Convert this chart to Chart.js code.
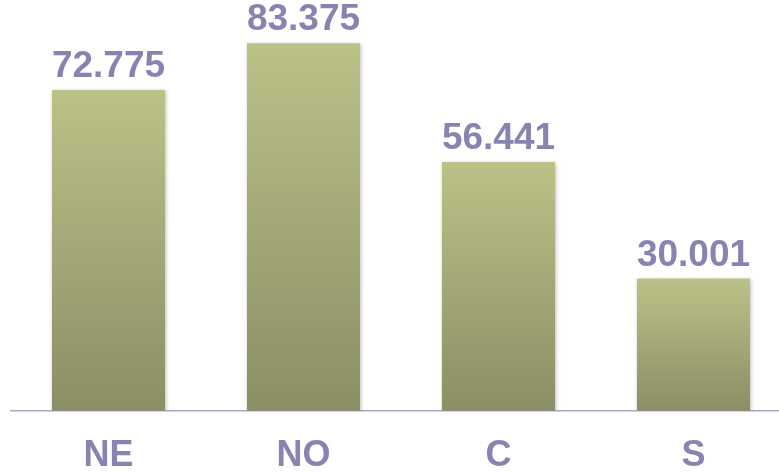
<!DOCTYPE html>
<html>
<head>
<meta charset="utf-8">
<script src="https://cdn.jsdelivr.net/npm/chart.js@4/dist/chart.umd.min.js"></script>
<style>
  html, body { margin: 0; padding: 0; background: #ffffff; overflow: hidden; }
  #wrap { width: 779px; height: 472px; overflow: hidden; }
  canvas { display: block; }
</style>
</head>
<body>
<div id="wrap"><canvas id="chart" width="800" height="502"></canvas></div>
<script>
// Regions and their values
const categories = ['NE', 'NO', 'C', 'S'];
const values = [72.775, 83.375, 56.441, 30.001];

const labelColor = '#8784b2';
const barTop = '#bcc188';
const barBottom = '#8c8e65';

// Vertical gradient per bar, light at the bar top, dark at the baseline
function barGradient(ctx) {
  const chart = ctx.chart;
  const area = chart.chartArea;
  if (!area || ctx.dataIndex === undefined) return barTop;
  const yScale = chart.scales.y;
  const top = yScale.getPixelForValue(values[ctx.dataIndex]);
  const base = yScale.getPixelForValue(0);
  const g = chart.ctx.createLinearGradient(0, top, 0, base);
  g.addColorStop(0, barTop);
  g.addColorStop(1, barBottom);
  return g;
}

// Soft drop shadow under the bars
const barShadow = {
  id: 'barShadow',
  beforeDatasetsDraw(chart) {
    const c = chart.ctx;
    c.save();
    c.shadowColor = 'rgba(0,0,0,0.25)';
    c.shadowBlur = 4;
    c.shadowOffsetX = 1;
    c.shadowOffsetY = 1;
  },
  afterDatasetsDraw(chart) {
    chart.ctx.restore();
  }
};

// Value labels above each bar
const valueLabels = {
  id: 'valueLabels',
  afterDraw(chart) {
    const c = chart.ctx;
    const meta = chart.getDatasetMeta(0);
    c.save();
    c.font = 'bold 37px "Liberation Sans", Arial, sans-serif';
    c.fillStyle = labelColor;
    c.textAlign = 'center';
    c.textBaseline = 'alphabetic';
    meta.data.forEach((bar, i) => {
      c.fillText(values[i].toFixed(3), bar.x, bar.y - 13);
    });
    c.restore();
  }
};

new Chart(document.getElementById('chart'), {
  type: 'bar',
  data: {
    labels: categories,
    datasets: [{
      data: values,
      backgroundColor: barGradient,
      borderWidth: 0,
      categoryPercentage: 1,
      barPercentage: 0.58
    }]
  },
  options: {
    responsive: false,
    animation: false,
    events: [],
    layout: { padding: { left: 11, right: 9, top: 14, bottom: 0 } },
    plugins: { legend: { display: false }, tooltip: { enabled: false } },
    scales: {
      y: {
        display: false,
        min: 0,
        max: 90
      },
      x: {
        grid: { display: false, drawTicks: false },
        border: { display: true, color: '#aaa6ca', width: 1.5 },
        ticks: {
          color: labelColor,
          padding: 24,
          font: { family: '"Liberation Sans", Arial, sans-serif', size: 36, weight: 'bold', lineHeight: 1.2 }
        }
      }
    }
  },
  plugins: [barShadow, valueLabels]
});
</script>
</body>
</html>
